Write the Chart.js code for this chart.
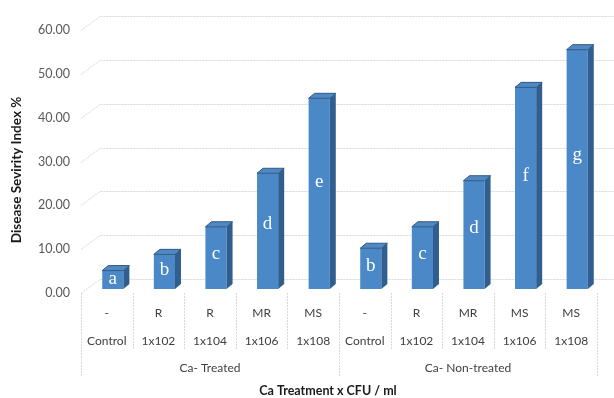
<!DOCTYPE html>
<html>
<head>
<meta charset="utf-8">
<script src="https://cdn.jsdelivr.net/npm/chart.js@4.4.1/dist/chart.umd.min.js"></script>
<style>
  html, body { margin: 0; padding: 0; background: #ffffff; }
  canvas { display: block; }
</style>
</head>
<body>
<canvas id="c" width="614" height="398"></canvas>
<script>
// Inoculum levels, host reaction and treatment group for each column
const categories = ['Control', '1x102', '1x104', '1x106', '1x108', 'Control', '1x102', '1x104', '1x106', '1x108'];
const reactions  = ['-', 'R', 'R', 'MR', 'MS', '-', 'R', 'MR', 'MS', 'MS'];
const groups     = ['Ca- Treated', 'Ca- Non-treated'];
const groupSize  = 5;

// Disease severity index (%) and significance letters
const severity = [4.2, 7.9, 14.2, 26.4, 43.5, 9.3, 14.2, 24.7, 46.0, 54.6];
const letters  = ['a', 'b', 'c', 'd', 'e', 'b', 'c', 'd', 'f', 'g'];

const yMin = 0, yMax = 60, yStep = 10;
const yTitle = 'Disease Sevirity Index %';
const xTitle = 'Ca Treatment x CFU / ml';

// pseudo-3D geometry
const WALL = { dx: 19, dy: -14 };   // back wall offset from the front plane
const BAR_SHIFT = { dx: 6, dy: -4 }; // columns sit slightly behind the front plane
const BAR_DEPTH = { dx: 6, dy: -5 };

const FONT = 'Lato, "Open Sans", sans-serif';
const GRID = '#d8d8d8';

const threeD = {
  id: 'threeD',
  beforeDatasetsDraw(chart) {
    const { ctx, chartArea, scales } = chart;
    const y = scales.y;
    ctx.save();
    ctx.strokeStyle = GRID;
    ctx.lineWidth = 1;
    ctx.setLineDash([2, 1]);
    y.ticks.forEach(t => {
      const py = Math.round(y.getPixelForValue(t.value)) + 0.5;
      ctx.beginPath();
      ctx.moveTo(chartArea.left, py);
      ctx.lineTo(chartArea.left + WALL.dx, py + WALL.dy);
      ctx.lineTo(chartArea.right + WALL.dx, py + WALL.dy);
      ctx.stroke();
    });
    ctx.restore();
  },
  beforeDatasetDraw(chart) {
    chart.ctx.save();
    chart.ctx.translate(BAR_SHIFT.dx, BAR_SHIFT.dy);
  },
  afterDatasetDraw(chart, args) {
    const { ctx } = chart;
    const meta = args.meta;
    const y = chart.scales.y;
    meta.data.forEach((bar, i) => {
      const p = bar.getProps(['x', 'y', 'base', 'width'], true);
      const x0 = p.x - p.width / 2, x1 = p.x + p.width / 2;
      const top = p.y, bottom = p.base;
      // side face
      ctx.beginPath();
      ctx.moveTo(x1, top);
      ctx.lineTo(x1 + BAR_DEPTH.dx, top + BAR_DEPTH.dy);
      ctx.lineTo(x1 + BAR_DEPTH.dx, bottom + BAR_DEPTH.dy);
      ctx.lineTo(x1, bottom);
      ctx.closePath();
      ctx.fillStyle = '#2f5e8f';
      ctx.fill();
      // top face
      ctx.beginPath();
      ctx.moveTo(x0, top);
      ctx.lineTo(x1, top);
      ctx.lineTo(x1 + BAR_DEPTH.dx, top + BAR_DEPTH.dy);
      ctx.lineTo(x0 + BAR_DEPTH.dx, top + BAR_DEPTH.dy);
      ctx.closePath();
      ctx.fillStyle = '#5288c2';
      ctx.fill();
      ctx.strokeStyle = '#2c5a88';
      ctx.lineWidth = 1;
      ctx.stroke();
      // significance letter
      ctx.fillStyle = '#ffffff';
      ctx.font = '19px "Liberation Serif", "DejaVu Serif", serif';
      ctx.textAlign = 'center';
      ctx.textBaseline = 'middle';
      ctx.fillText(letters[i], p.x, y.getPixelForValue(severity[i] * 0.56));
    });
    ctx.restore();
  },
  afterDraw(chart) {
    const { ctx, chartArea, scales } = chart;
    const x = scales.x;
    const bottom = chartArea.bottom;
    const half = (x.getPixelForValue(1) - x.getPixelForValue(0)) / 2;
    ctx.save();
    ctx.strokeStyle = GRID;
    ctx.lineWidth = 1;
    ctx.setLineDash([2, 1]);
    for (let i = 0; i <= categories.length; i++) {
      const px = Math.round(i < categories.length ? x.getPixelForValue(i) - half : x.getPixelForValue(i - 1) + half) + 0.5;
      const isGroupEdge = i % groupSize === 0;
      ctx.beginPath();
      ctx.moveTo(px, bottom);
      ctx.lineTo(px, isGroupEdge ? bottom + 84 : bottom + 57);
      ctx.stroke();
    }
    ctx.setLineDash([]);
    ctx.fillStyle = '#404040';
    ctx.font = '12px ' + FONT;
    ctx.textAlign = 'center';
    ctx.textBaseline = 'middle';
    groups.forEach((g, gi) => {
      const a = x.getPixelForValue(gi * groupSize) - half;
      const b = x.getPixelForValue(gi * groupSize + groupSize - 1) + half;
      ctx.fillText(g, (a + b) / 2, bottom + 75);
    });
    // axis titles
    ctx.fillStyle = '#1a1a1a';
    ctx.font = 'bold 12.5px ' + FONT;
    ctx.fillText(xTitle, 328, 391);
    ctx.font = 'bold 13.5px ' + FONT;
    ctx.translate(17, 170);
    ctx.rotate(-Math.PI / 2);
    ctx.fillText(yTitle, 0, 0);
    ctx.restore();
  }
};

new Chart(document.getElementById('c'), {
  type: 'bar',
  data: {
    labels: categories.map((c, i) => [reactions[i], c]),
    datasets: [{
      data: severity,
      backgroundColor: '#4a88c8',
      borderWidth: 0,
      categoryPercentage: 1,
      barPercentage: 0.41
    }]
  },
  options: {
    responsive: false,
    animation: false,
    devicePixelRatio: 1,
    layout: { padding: { top: 30, right: 17, bottom: 0, left: 0 } },
    plugins: { legend: { display: false }, tooltip: { enabled: false } },
    scales: {
      x: {
        grid: { display: false, drawTicks: false },
        border: { display: false },
        ticks: {
          color: '#404040',
          font: { family: FONT, size: 12, lineHeight: 2.33 },
          padding: 6,
          maxRotation: 0,
          autoSkip: false
        },
        afterFit(s) { s.height = 105; }
      },
      y: {
        min: yMin,
        max: yMax,
        grid: { display: false, drawTicks: false },
        border: { display: false },
        ticks: {
          stepSize: yStep,
          color: '#595959',
          font: { family: FONT, size: 12.5 },
          padding: 11,
          callback: v => Number(v).toFixed(2)
        },
        afterFit(s) { s.width = 81; }
      }
    }
  },
  plugins: [threeD]
});
</script>
</body>
</html>
